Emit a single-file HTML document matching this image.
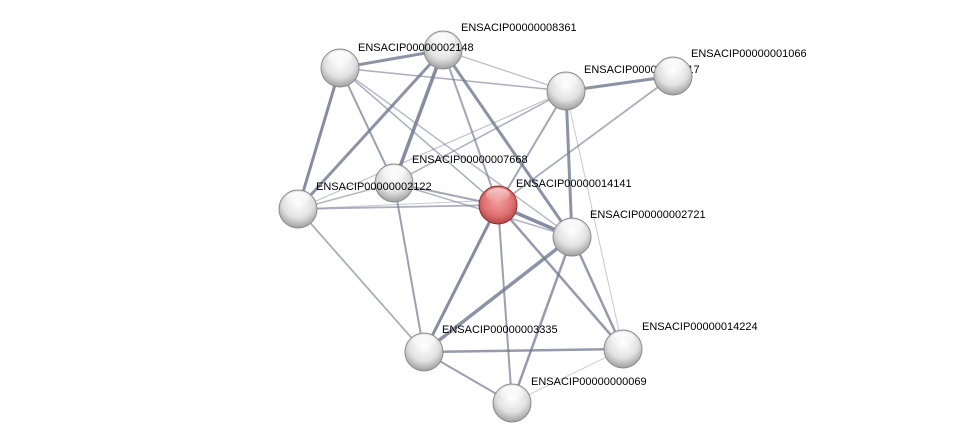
<!DOCTYPE html>
<html><head><meta charset="utf-8"><style>
html,body{margin:0;padding:0;background:#fff;width:975px;height:448px;overflow:hidden}
text{font-family:"Liberation Sans",sans-serif;font-size:11px;fill:#000}
</style></head><body>
<svg width="975" height="448" viewBox="0 0 975 448" xmlns="http://www.w3.org/2000/svg">
<defs>
<radialGradient id="gw" cx="0.5" cy="0.35" r="0.65">
<stop offset="0" stop-color="#ffffff"/><stop offset="0.6" stop-color="#e2e2e2"/><stop offset="1" stop-color="#a0a0a0"/>
</radialGradient>
<radialGradient id="gr" cx="0.5" cy="0.4" r="0.65">
<stop offset="0" stop-color="#f4a0a0"/><stop offset="0.6" stop-color="#e07070"/><stop offset="1" stop-color="#a83c3c"/>
</radialGradient>
<linearGradient id="hl" x1="0" y1="0" x2="0" y2="1"><stop offset="0" stop-color="#fff" stop-opacity="0.9"/><stop offset="1" stop-color="#fff" stop-opacity="0"/></linearGradient>
<g id="wn"><circle r="19" fill="url(#gw)" stroke="#8a8a8a" stroke-width="1"/><ellipse cy="-10" rx="12" ry="7" fill="url(#hl)"/></g>
</defs>
<g stroke="#717891" stroke-linecap="round" fill="none">
<line x1="340" y1="68" x2="443" y2="50" stroke-width="3" stroke-opacity="0.8"/>
<line x1="340" y1="68" x2="566" y2="91" stroke-width="1.5" stroke-opacity="0.6"/>
<line x1="340" y1="68" x2="298" y2="209" stroke-width="3" stroke-opacity="0.85"/>
<line x1="340" y1="68" x2="394" y2="183" stroke-width="2" stroke-opacity="0.7"/>
<line x1="340" y1="68" x2="498" y2="205" stroke-width="1.5" stroke-opacity="0.6"/>
<line x1="340" y1="68" x2="572" y2="237" stroke-width="1.5" stroke-opacity="0.5"/>
<line x1="443" y1="50" x2="566" y2="91" stroke-width="1.2" stroke-opacity="0.5"/>
<line x1="443" y1="50" x2="394" y2="183" stroke-width="3.5" stroke-opacity="0.85"/>
<line x1="443" y1="50" x2="298" y2="209" stroke-width="3" stroke-opacity="0.8"/>
<line x1="443" y1="50" x2="498" y2="205" stroke-width="2" stroke-opacity="0.65"/>
<line x1="443" y1="50" x2="572" y2="237" stroke-width="3" stroke-opacity="0.8"/>
<line x1="566" y1="91" x2="673" y2="76" stroke-width="3" stroke-opacity="0.8"/>
<line x1="566" y1="91" x2="498" y2="205" stroke-width="2" stroke-opacity="0.65"/>
<line x1="566" y1="91" x2="394" y2="183" stroke-width="1.5" stroke-opacity="0.6"/>
<line x1="566" y1="91" x2="298" y2="209" stroke-width="1.2" stroke-opacity="0.45"/>
<line x1="566" y1="91" x2="572" y2="237" stroke-width="3" stroke-opacity="0.8"/>
<line x1="566" y1="91" x2="623" y2="349" stroke-width="1" stroke-opacity="0.4"/>
<line x1="673" y1="76" x2="498" y2="205" stroke-width="1.8" stroke-opacity="0.6"/>
<line x1="394" y1="183" x2="298" y2="209" stroke-width="1.5" stroke-opacity="0.55"/>
<line x1="394" y1="183" x2="498" y2="205" stroke-width="2" stroke-opacity="0.65"/>
<line x1="394" y1="183" x2="424" y2="352" stroke-width="2" stroke-opacity="0.7"/>
<line x1="394" y1="183" x2="572" y2="237" stroke-width="1.5" stroke-opacity="0.55"/>
<line x1="298" y1="209" x2="498" y2="205" stroke-width="1.8" stroke-opacity="0.6"/>
<line x1="298" y1="209" x2="498" y2="200" stroke-width="1" stroke-opacity="0.4"/>
<line x1="298" y1="209" x2="424" y2="352" stroke-width="1.8" stroke-opacity="0.6"/>
<line x1="498" y1="205" x2="572" y2="237" stroke-width="3.5" stroke-opacity="0.85"/>
<line x1="498" y1="205" x2="424" y2="352" stroke-width="3" stroke-opacity="0.85"/>
<line x1="498" y1="205" x2="512" y2="403" stroke-width="2" stroke-opacity="0.7"/>
<line x1="498" y1="205" x2="623" y2="349" stroke-width="2.5" stroke-opacity="0.75"/>
<line x1="572" y1="237" x2="424" y2="352" stroke-width="3.5" stroke-opacity="0.8"/>
<line x1="572" y1="237" x2="512" y2="403" stroke-width="2.5" stroke-opacity="0.75"/>
<line x1="572" y1="237" x2="623" y2="349" stroke-width="2.5" stroke-opacity="0.75"/>
<line x1="424" y1="352" x2="623" y2="349" stroke-width="2.5" stroke-opacity="0.75"/>
<line x1="424" y1="352" x2="512" y2="403" stroke-width="2" stroke-opacity="0.7"/>
<line x1="512" y1="403" x2="623" y2="349" stroke-width="1" stroke-opacity="0.35"/>
</g>
<use href="#wn" x="340" y="68"/>
<use href="#wn" x="443" y="50"/>
<use href="#wn" x="566" y="91"/>
<use href="#wn" x="394" y="183"/>
<use href="#wn" x="298" y="209"/>
<g transform="translate(498,205)"><circle r="19" fill="url(#gr)" stroke="#8a3030" stroke-width="1"/><ellipse cy="-10" rx="12" ry="7" fill="url(#hl)" opacity="0.7"/></g>
<use href="#wn" x="572" y="237"/>
<use href="#wn" x="424" y="352"/>
<use href="#wn" x="623" y="349"/>
<use href="#wn" x="512" y="403"/>
<text x="358" y="51">ENSACIP00000002148</text>
<text x="461" y="31">ENSACIP00000008361</text>
<text x="584" y="73">ENSACIP00000001817</text>
<use href="#wn" x="673" y="76"/>
<text x="691" y="57">ENSACIP00000001066</text>
<text x="412" y="163">ENSACIP00000007668</text>
<text x="316" y="190">ENSACIP00000002122</text>
<text x="516" y="187">ENSACIP00000014141</text>
<text x="590" y="218">ENSACIP00000002721</text>
<text x="442" y="333">ENSACIP00000003335</text>
<text x="642" y="330">ENSACIP00000014224</text>
<text x="531" y="385">ENSACIP00000000069</text>
</svg>
</body></html>
